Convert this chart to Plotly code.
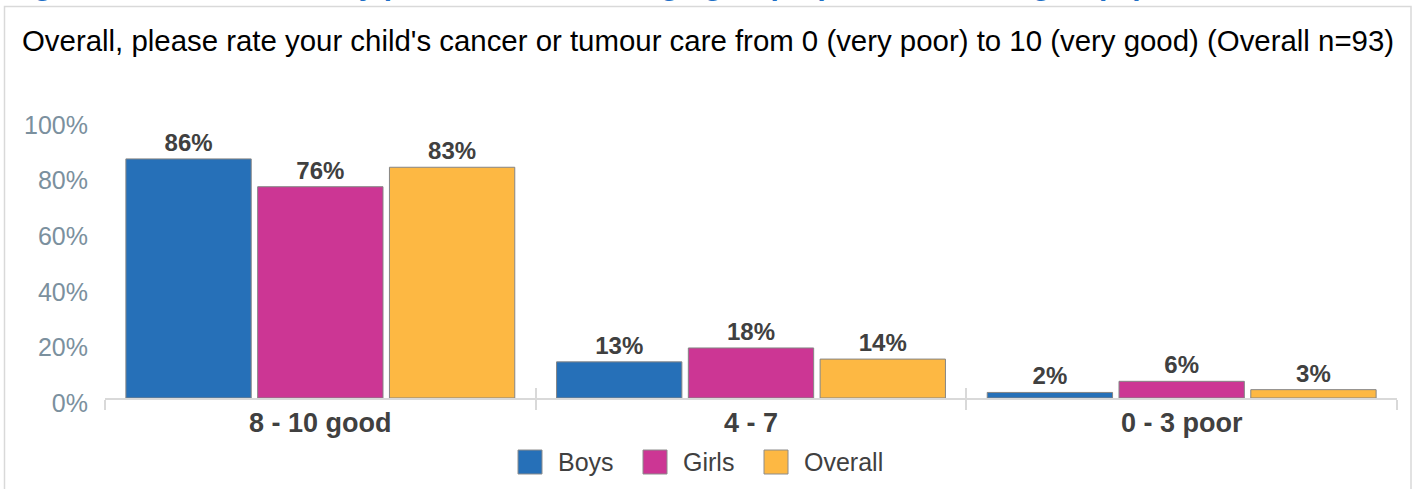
import plotly.graph_objects as go

# --- data -----------------------------------------------------------------
categories = ["8 - 10 good", "4 - 7", "0 - 3 poor"]
series_names = ["Boys", "Girls", "Overall"]
boys = [86, 13, 2]
girls = [76, 18, 6]
overall = [83, 14, 3]
y_tick_values = [0, 20, 40, 60, 80, 100]
y_tick_labels = ["0%", "20%", "40%", "60%", "80%", "100%"]

series_values = [boys, girls, overall]
series_colors = ["#2670b8", "#cc3694", "#fdb843"]

question = ("Overall, please rate your child's cancer or tumour care from 0 "
            "(very poor) to 10 (very good) (Overall n=93)")
figure_title = ("Figure 5: Overall score by patient sex within age groups "
                "(combined sex groups)")

# --- page geometry --------------------------------------------------------
W, H = 1415, 489
L, R, T, B = 105, 18, 120, 91
PW, PH = W - L - R, H - T - B

FONT = "Liberation Sans, Arial, sans-serif"
DARK = "#404040"
AXIS_GREY = "#d9d9d9"


def px_x(p):
    """page pixel column -> paper x"""
    return (p - L) / PW


def px_y(p):
    """page pixel row -> paper y"""
    return (H - B - p) / PH


fig = go.Figure()

for name, vals, col in zip(series_names, series_values, series_colors):
    fig.add_trace(go.Bar(
        name=name,
        x=categories,
        y=vals,
        marker=dict(color=col, line=dict(color="#858585", width=1)),
        text=[f"{v}%" for v in vals],
        textposition="outside",
        textfont=dict(family=FONT, size=24, color=DARK, weight=700),
        cliponaxis=False,
        hoverinfo="skip",
        showlegend=False,
    ))

# invisible helper trace so the overlay axis knows the categories
fig.add_trace(go.Scatter(
    x=categories, y=[None] * len(categories), xaxis="x2", mode="markers",
    showlegend=False, hoverinfo="skip",
))

fig.update_layout(
    width=W, height=H,
    margin=dict(l=L, r=R, t=T, b=B, pad=0),
    paper_bgcolor="white",
    plot_bgcolor="white",
    barmode="group",
    bargap=0.082,
    bargroupgap=0.049,
    font=dict(family=FONT, color=DARK),
    xaxis=dict(
        type="category",
        categoryorder="array", categoryarray=categories,
        range=[-0.5, len(categories) - 0.5],
        showline=True, linecolor=AXIS_GREY, linewidth=1.5,
        ticks="outside", ticklen=10, tickwidth=1.5, tickcolor=AXIS_GREY,
        tickson="boundaries",
        tickfont=dict(family=FONT, size=27, color=DARK, weight=700),
        showgrid=False, zeroline=False, fixedrange=True,
    ),
    xaxis2=dict(
        type="category", overlaying="x", anchor="y", side="bottom",
        categoryorder="array", categoryarray=categories,
        range=[-0.5, len(categories) - 0.5],
        ticks="inside", ticklen=10, tickwidth=1.5, tickcolor=AXIS_GREY,
        tickson="boundaries", showticklabels=False,
        showline=False, showgrid=False, zeroline=False,
    ),
    yaxis=dict(
        range=[0, 100],
        tickvals=y_tick_values, ticktext=y_tick_labels,
        tickfont=dict(family=FONT, size=25, color="#7b909e"),
        ticks="", ticklabelstandoff=16, ticklabelshift=5,
        showgrid=False, showline=False, zeroline=False, fixedrange=True,
    ),
)

# outer frame of the chart panel
fig.add_shape(
    type="rect", xref="paper", yref="paper",
    x0=px_x(4.5), x1=px_x(1411), y0=px_y(600), y1=px_y(6.5),
    line=dict(color=AXIS_GREY, width=1.5), fillcolor="rgba(0,0,0,0)",
    layer="below",
)

# figure heading sitting above the panel
fig.add_annotation(
    text=figure_title, xref="paper", yref="paper",
    x=px_x(5), y=px_y(-15), xanchor="left", yanchor="middle",
    showarrow=False,
    font=dict(family=FONT, size=30, color="#1f6fc6", weight=700),
)

# question text
fig.add_annotation(
    text=question, xref="paper", yref="paper",
    x=px_x(707.5), y=px_y(40), xanchor="center", yanchor="middle",
    showarrow=False,
    font=dict(family=FONT, size=29.4, color="#000000"),
)

# legend: coloured squares with series names
legend_starts = [518, 643, 764]
swatch = 24
legend_mid = 462
for name, col, x0 in zip(series_names, series_colors, legend_starts):
    fig.add_shape(
        type="rect", xref="paper", yref="paper",
        x0=px_x(x0), x1=px_x(x0 + swatch),
        y0=px_y(legend_mid + swatch / 2), y1=px_y(legend_mid - swatch / 2),
        fillcolor=col, line=dict(color="#8c8c8c", width=1),
    )
    fig.add_annotation(
        text=name, xref="paper", yref="paper",
        x=px_x(x0 + swatch + 14), y=px_y(legend_mid),
        xanchor="left", yanchor="middle", showarrow=False,
        font=dict(family=FONT, size=25, color=DARK),
    )

fig.write_html("out.html")
